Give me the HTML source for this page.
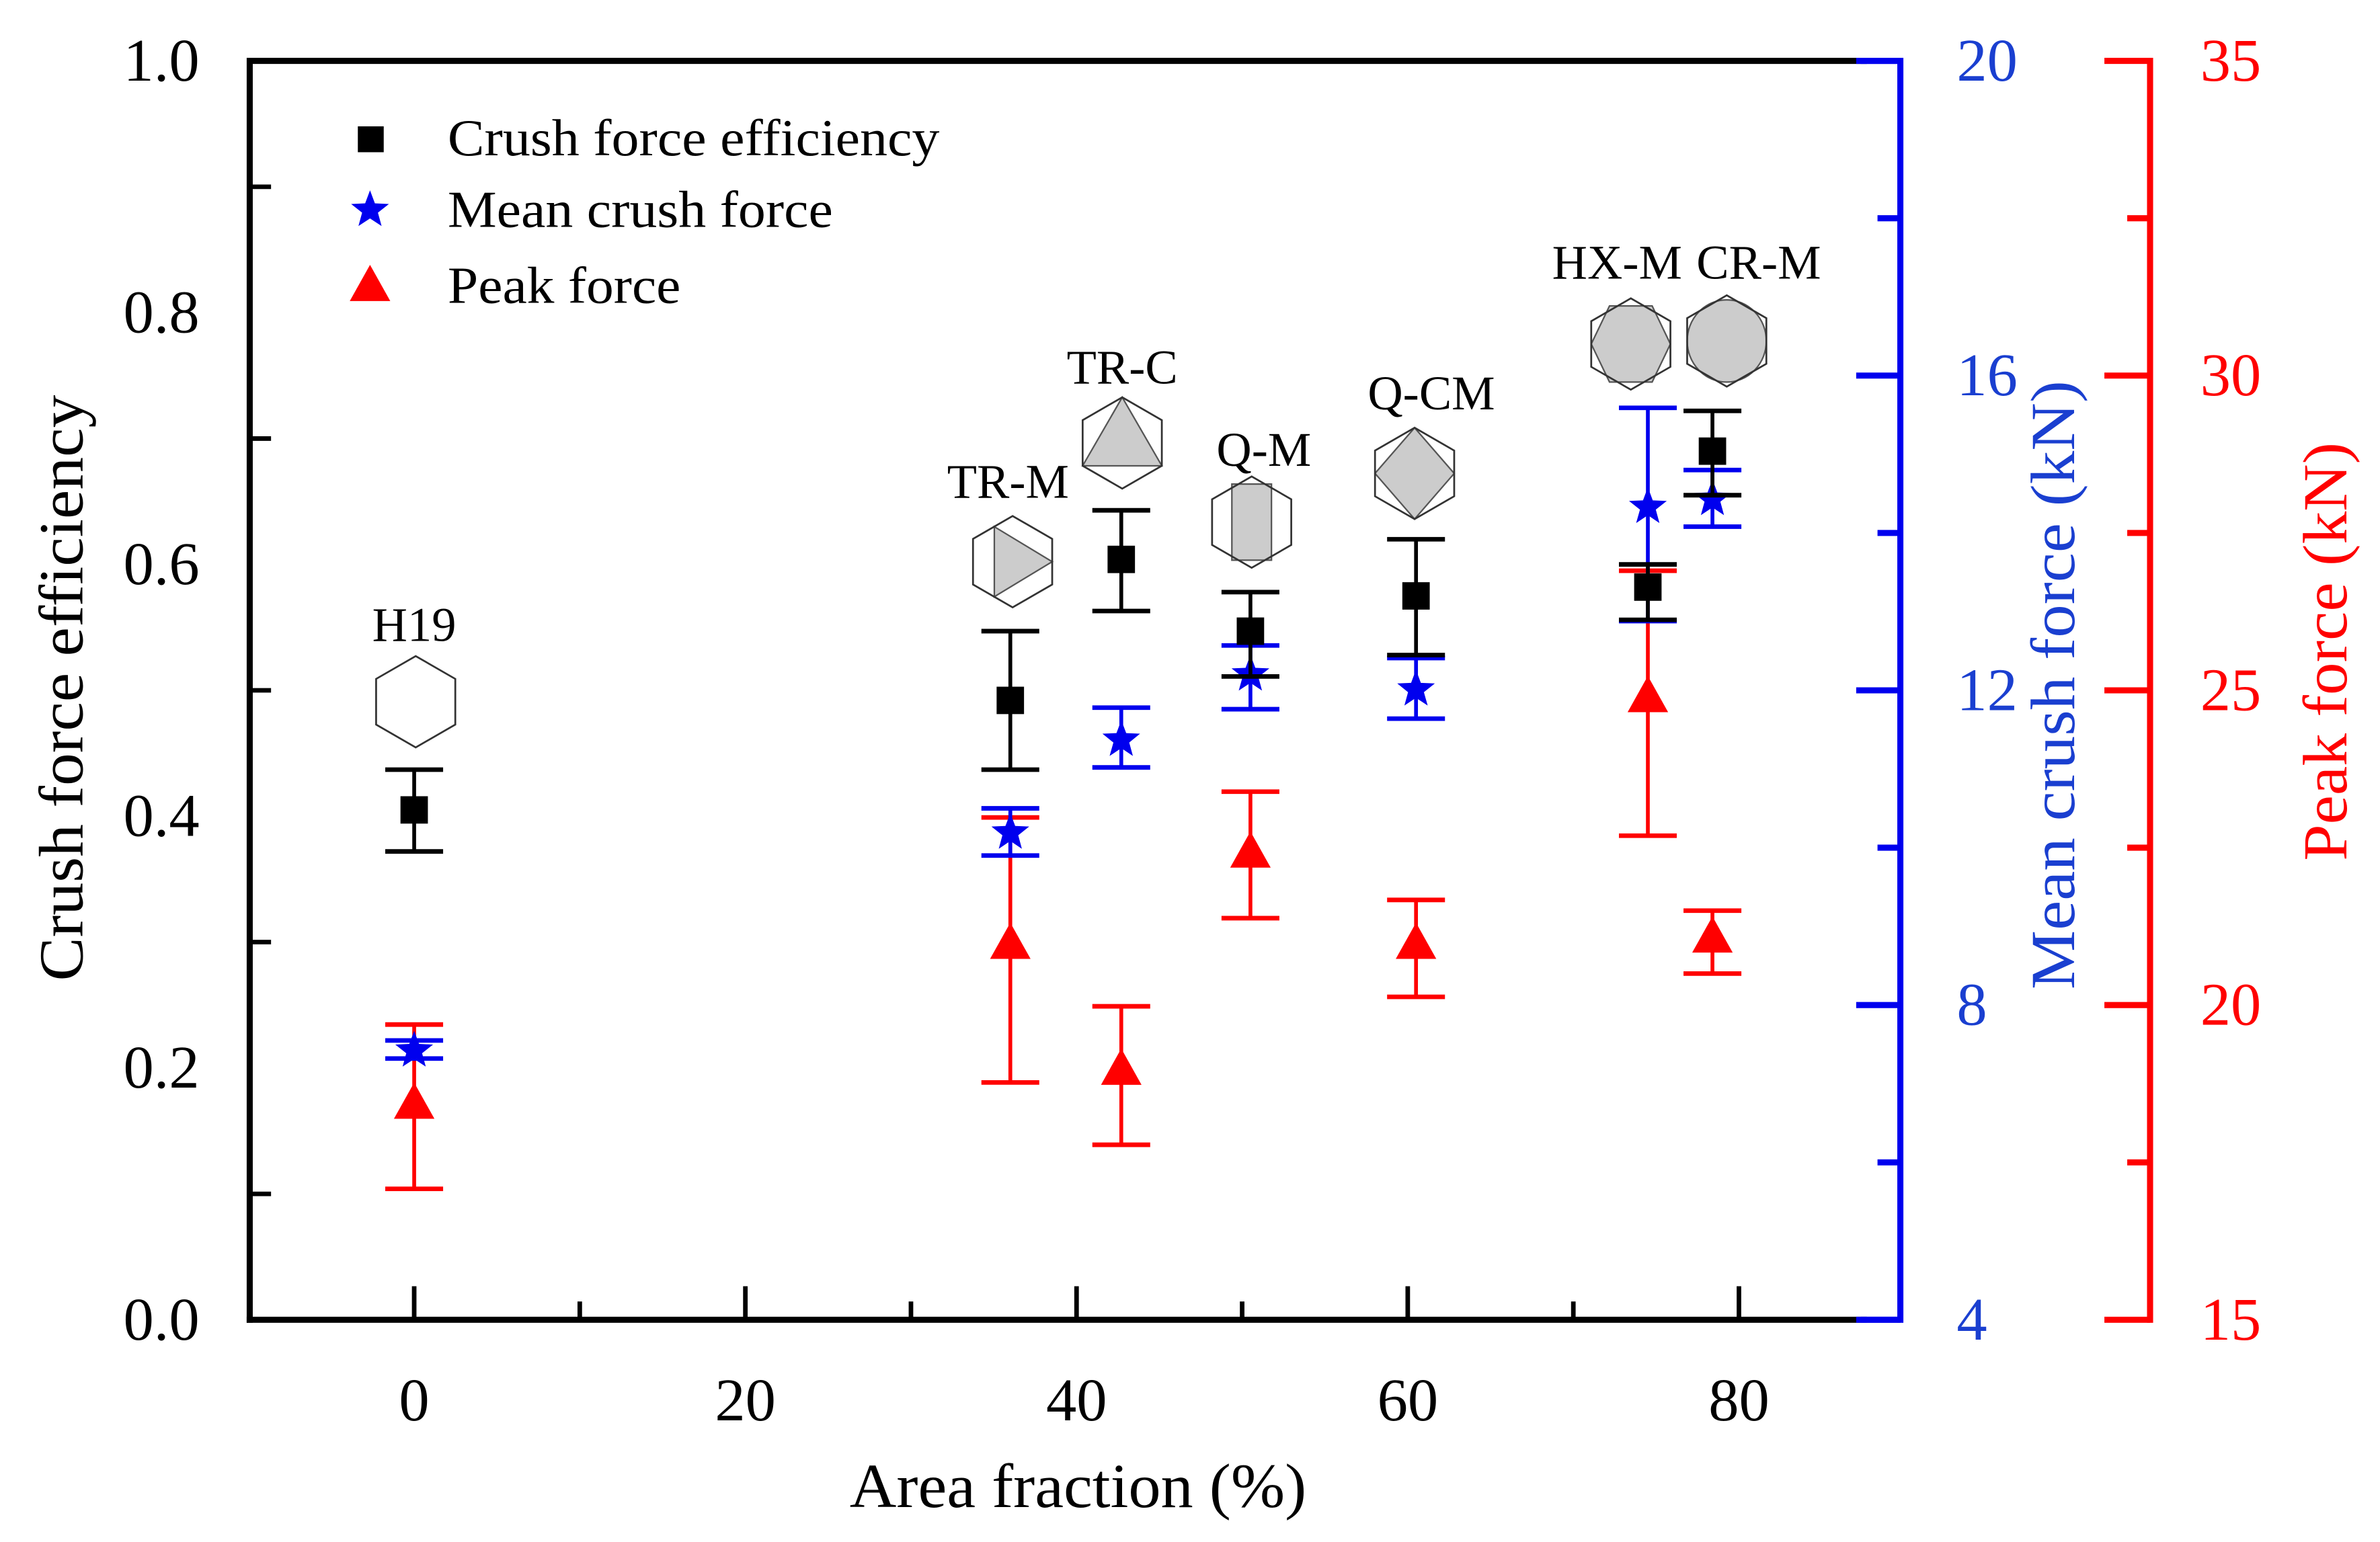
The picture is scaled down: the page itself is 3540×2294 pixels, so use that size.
<!DOCTYPE html>
<html><head><meta charset="utf-8"><style>
html,body{margin:0;padding:0;background:#fff;}
svg{display:block;}
svg text{font-family:"Liberation Serif","DejaVu Serif",serif;}
</style></head><body>
<svg id="chart" width="3540" height="2294" viewBox="0 0 1563 1013" preserveAspectRatio="none" xmlns="http://www.w3.org/2000/svg" font-family="Liberation Serif, DejaVu Serif, serif"></svg>
<script>
const categories=["H19","TR-M","TR-C","Q-M","Q-CM","HX-M","CR-M"];
const areaFraction=[0,36,42.7,50.5,60.5,74.5,78.4];
const cfe=[0.405,0.492,0.604,0.547,0.575,0.582,0.690];
const cfeLo=[0.372,0.437,0.563,0.511,0.528,0.556,0.655];
const cfeHi=[0.437,0.547,0.643,0.578,0.620,0.600,0.722];
const meanForce=[7.42,10.19,11.37,12.20,12.01,14.33,14.43];
const meanLo=[7.32,9.90,11.02,11.76,11.64,12.88,14.08];
const meanHi=[7.55,10.50,11.78,12.57,12.41,15.59,14.80];
const peakForce=[18.43,20.97,18.97,22.42,20.97,24.89,21.07];
const peakLo=[17.08,18.77,17.78,21.38,20.13,22.69,20.50];
const peakHi=[19.69,22.98,19.98,23.39,21.67,26.90,21.50];
const xTicks=[0,20,40,60,80];
const yTicks=[0.0,0.2,0.4,0.6,0.8,1.0];
const blueTicks=[4,8,12,16,20];
const redTicks=[15,20,25,30,35];

const L=164,R=1222,T=40,B=867,BA=1248,RA=1412;
const X=v=>272+(v-0)*(1142-272)/80;
const Y=v=>B-(v-0)*(B-T)/1.0;
const YB=v=>B-(v-4)*(B-T)/16;
const YR=v=>B-(v-15)*(B-T)/20;
const svg=document.getElementById('chart');
const NS="http://www.w3.org/2000/svg";
const FF="Liberation Serif, DejaVu Serif, serif";
function mk(tag,at,parent){const e=document.createElementNS(NS,tag);for(const k in at)e.setAttribute(k,at[k]);(parent||svg).appendChild(e);return e;}
function txt(s,at){at['font-family']=FF;const e=mk('text',at);e.textContent=s;return e;}

let e;
e=mk('line',{x1:L,y1:T,x2:R+4,y2:T,stroke:'#000','stroke-width':4});


e=mk('line',{x1:L,y1:T-2,x2:L,y2:B+2,stroke:'#000','stroke-width':4});


e=mk('line',{x1:L-2,y1:B,x2:R+4,y2:B,stroke:'#000','stroke-width':4});


mk('line',{x1:R,y1:T,x2:BA,y2:T,stroke:'#0000ee','stroke-width':4});
mk('line',{x1:R,y1:B,x2:BA,y2:B,stroke:'#0000ee','stroke-width':4});
e=mk('line',{x1:BA,y1:T-2,x2:BA,y2:B+2,stroke:'#0000ee','stroke-width':4});


e=mk('line',{x1:RA,y1:T-2,x2:RA,y2:B+2,stroke:'#ff0000','stroke-width':4});



for(let v=0;v<=80;v+=10){const maj=v%20===0;mk('line',{x1:X(v),y1:B,x2:X(v),y2:B-(maj?22:12),stroke:'#000','stroke-width':3});}
xTicks.forEach(v=>{e=txt(String(v),{x:X(v),y:933,'font-size':40,'text-anchor':'middle'});

});
for(let i=0;i<=10;i++){const v=i/10;const maj=i%2===0;mk('line',{x1:L,y1:Y(v),x2:L+(maj?0:14),y2:Y(v),stroke:'#000','stroke-width':3});}
yTicks.forEach(v=>{e=txt(v.toFixed(1),{x:131,y:Y(v)+13,'font-size':40,'text-anchor':'end'});

});
for(let v=4;v<=20;v+=2){const maj=v%4===0;mk('line',{x1:BA,y1:YB(v),x2:BA-(maj?29:15),y2:YB(v),stroke:'#0000ee','stroke-width':4});}
blueTicks.forEach(v=>{e=txt(String(v),{x:1285,y:YB(v)+13,'font-size':40,fill:'#1a3fd0'});

});
for(let v=15;v<=35;v+=2.5){const maj=v%5===0;mk('line',{x1:RA,y1:YR(v),x2:RA-(maj?30:15),y2:YR(v),stroke:'#ff0000','stroke-width':4});}
redTicks.forEach(v=>{e=txt(String(v),{x:1445,y:YR(v)+13,'font-size':40,fill:'#ff0000'});

});

e=txt('Area fraction (%)',{x:708,y:990,'font-size':41,'text-anchor':'middle',textLength:300,lengthAdjust:'spacingAndGlyphs'});


e=txt('Crush force efficiency',{x:0,y:0,'font-size':41,'text-anchor':'middle',transform:'translate(54,452) rotate(-90)',textLength:385,lengthAdjust:'spacingAndGlyphs'});


e=txt('Mean crush force (kN)',{x:0,y:0,'font-size':41,'text-anchor':'middle',fill:'#1a3fd0',transform:'translate(1362,450) rotate(-90)',textLength:400,lengthAdjust:'spacingAndGlyphs'});


e=txt('Peak force (kN)',{x:0,y:0,'font-size':41,'text-anchor':'middle',fill:'#ff0000',transform:'translate(1541,428) rotate(-90)',textLength:275,lengthAdjust:'spacingAndGlyphs'});



function errbar(x,y1,y2,c,w){mk('line',{x1:x,y1:y1,x2:x,y2:y2,stroke:c,'stroke-width':2.5});mk('line',{x1:x-19,y1:y1,x2:x+19,y2:y1,stroke:c,'stroke-width':w});mk('line',{x1:x-19,y1:y2,x2:x+19,y2:y2,stroke:c,'stroke-width':w});}
function star(cx,cy,r,c){let p=[];for(let i=0;i<10;i++){const a=-Math.PI/2+i*Math.PI/5;const rr=i%2?r*0.42:r;p.push((cx+rr*Math.cos(a)).toFixed(1)+','+(cy+rr*Math.sin(a)).toFixed(1));}return mk('polygon',{points:p.join(' '),fill:c});}
function tri(cx,cy,s,c){return mk('polygon',{points:`${cx},${cy-s} ${cx-s*0.95},${cy+s*0.7} ${cx+s*0.95},${cy+s*0.7}`,fill:c});}

areaFraction.forEach((a,i)=>{const x=X(a);
 errbar(x,YR(peakLo[i]),YR(peakHi[i]),'#ff0000',3);
 e=tri(x,YR(peakForce[i]),14,'#ff0000');
 
 
 errbar(x,YB(meanLo[i]),YB(meanHi[i]),'#0000ee',3);
 e=star(x,YB(meanForce[i]),13,'#0000ee');
 
 
 errbar(x,Y(cfeLo[i]),Y(cfeHi[i]),'#000',3);
 e=mk('rect',{x:x-9,y:Y(cfe[i])-9,width:18,height:18,fill:'#000'});
 
 
});

const icons=[[273,461,410,'none'],[665,369,316,'trm'],[737,291,241,'trc'],[822,343,295,'qm'],[929,311,258,'qcm'],[1071,226,172,'hx'],[1134,224,172,'cr']];
const labelX=[272,662,737,830,940,1062,1155];
icons.forEach((ic,i)=>{const [cx,cy,ly,t]=ic;const r=30,hw=26;
 const g=mk('g',{});
 
 
 const hp=`${cx},${cy-r} ${cx+hw},${cy-r/2} ${cx+hw},${cy+r/2} ${cx},${cy+r} ${cx-hw},${cy+r/2} ${cx-hw},${cy-r/2}`;
 const gr='#cccccc';
 if(t==='trm')mk('polygon',{points:`${cx-12},${cy-23} ${cx+hw},${cy} ${cx-12},${cy+23}`,fill:gr,stroke:'#555','stroke-width':1},g);
 if(t==='trc')mk('polygon',{points:`${cx},${cy-r} ${cx+hw},${cy+r/2} ${cx-hw},${cy+r/2}`,fill:gr,stroke:'#555','stroke-width':1},g);
 if(t==='qm')mk('rect',{x:cx-13,y:cy-r+5,width:26,height:2*r-10,fill:gr,stroke:'#555','stroke-width':1},g);
 if(t==='qcm')mk('polygon',{points:`${cx},${cy-r} ${cx+hw},${cy} ${cx},${cy+r} ${cx-hw},${cy}`,fill:gr,stroke:'#555','stroke-width':1},g);
 if(t==='hx')mk('polygon',{points:`${cx-14},${cy-r+5} ${cx+14},${cy-r+5} ${cx+hw},${cy} ${cx+14},${cy+r-5} ${cx-14},${cy+r-5} ${cx-hw},${cy}`,fill:gr,stroke:'#555','stroke-width':1},g);
 if(t==='cr')mk('ellipse',{cx:cx,cy:cy,rx:hw,ry:r-3,fill:gr,stroke:'#555','stroke-width':1},g);
 mk('polygon',{points:hp,fill:'none',stroke:'#333','stroke-width':1.2},g);
 e=txt(categories[i],{x:labelX[i],y:ly+11,'font-size':32,'text-anchor':'middle'});
 
 
});

const lg=mk('g',{});


mk('rect',{x:235,y:83,width:17,height:17,fill:'#000'},lg);
star(243,138,13,'#0000ee');
tri(243,188,14,'#ff0000');
[['Crush force efficiency',102,323],['Mean crush force',149,253],['Peak force',199,153]].forEach(([s,y,w])=>{
 e=txt(s,{x:294,y:y,'font-size':34,textLength:w,lengthAdjust:'spacingAndGlyphs'});
 
 
});
</script>
</body></html>
